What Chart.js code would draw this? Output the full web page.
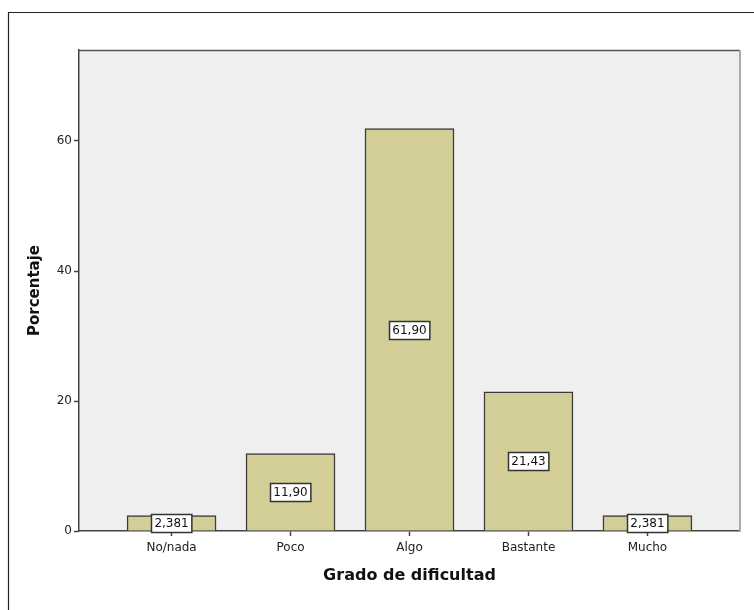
<!DOCTYPE html>
<html>
<head>
<meta charset="utf-8">
<script src="https://cdn.jsdelivr.net/npm/chart.js@4"></script>
<style>
html,body{margin:0;padding:0;background:#fff;}
canvas{display:block;}
</style>
</head>
<body>
<canvas id="c" width="754" height="610"></canvas>
<script>
const categories = ["No/nada", "Poco", "Algo", "Bastante", "Mucho"];
const percentages = [2.381, 11.90, 61.90, 21.43, 2.381];
const yTicks = [0, 20, 40, 60];

const FONT = "'DejaVu Sans', Verdana, sans-serif";

const framePlugin = {
  id: 'frame',
  beforeDraw(chart) {
    const {ctx, chartArea: a} = chart;
    ctx.save();
    ctx.fillStyle = '#ffffff';
    ctx.fillRect(0, 0, chart.width, chart.height);
    ctx.strokeStyle = '#222';
    ctx.lineWidth = 1.2;
    ctx.beginPath();
    ctx.moveTo(8.5, chart.height);
    ctx.lineTo(8.5, 12.5);
    ctx.lineTo(chart.width, 12.5);
    ctx.stroke();
    ctx.fillStyle = '#efefef';
    ctx.fillRect(a.left, a.top, a.right - a.left, a.bottom - a.top);
    ctx.restore();
  },
  afterDraw(chart) {
    const {ctx, chartArea: a} = chart;
    ctx.save();
    ctx.strokeStyle = '#555';
    ctx.lineWidth = 1.5;
    ctx.beginPath();
    ctx.moveTo(a.left, a.top + 0.5);
    ctx.lineTo(a.right, a.top + 0.5);
    ctx.stroke();
    ctx.strokeStyle = '#aaa';
    ctx.lineWidth = 2;
    ctx.beginPath();
    ctx.moveTo(a.right, a.top);
    ctx.lineTo(a.right, a.bottom);
    ctx.stroke();
    ctx.restore();
  },
  afterDatasetsDraw(chart) {
    const {ctx} = chart;
    const meta = chart.getDatasetMeta(0);
    ctx.save();
    ctx.font = "12px " + FONT;
    ctx.textAlign = 'center';
    ctx.textBaseline = 'middle';
    meta.data.forEach((bar, i) => {
      const txt = percentages[i].toPrecision(4).replace('.', ',');
      const cy = (bar.y + bar.base) / 2;
      const w = ctx.measureText(txt).width + 6;
      const h = 18;
      const x0 = Math.round(bar.x - w / 2) + 0.5;
      const y0 = Math.round(cy - h / 2) + 0.5;
      ctx.fillStyle = '#fff';
      ctx.fillRect(x0, y0, w, h);
      ctx.strokeStyle = '#333';
      ctx.lineWidth = 1.5;
      ctx.strokeRect(x0, y0, w, h);
      ctx.fillStyle = '#111';
      ctx.fillText(txt, bar.x, cy + 1);
    });
    ctx.restore();
  }
};

new Chart(document.getElementById('c'), {
  type: 'bar',
  data: {
    datasets: [{
      data: percentages.map((v, i) => ({x: i, y: v})),
      backgroundColor: '#d3ce98',
      borderColor: '#3a3a3a',
      borderWidth: 1.5,
      barThickness: 89
    }]
  },
  options: {
    responsive: false,
    animation: false,
    events: [],
    layout: {padding: {left: 0, right: 14, top: 50, bottom: 0}},
    plugins: {legend: {display: false}, tooltip: {enabled: false}},
    scales: {
      x: {
        type: 'linear',
        offset: false,
        min: -0.778,
        max: 4.778,
        afterBuildTicks: (s) => { s.ticks = categories.map((c, i) => ({value: i})); },
        afterFit: (s) => { s.height = 79; },
        ticks: {
          autoSkip: false,
          maxRotation: 0,
          padding: 5,
          color: '#222',
          font: {family: FONT, size: 12},
          callback: (v) => categories[v]
        },
        grid: {offset: false, drawOnChartArea: false, drawTicks: true, tickLength: 5, color: '#444', tickWidth: 1.5},
        border: {display: true, color: '#444', width: 1.5},
        title: {
          display: true,
          text: 'Grado de dificultad',
          color: '#111',
          font: {family: FONT, size: 16, weight: 'bold'},
          padding: {top: 0, bottom: 25}
        }
      },
      y: {
        min: 0,
        max: 74,
        afterBuildTicks: (s) => { s.ticks = yTicks.map(v => ({value: v})); },
        afterFit: (s) => { s.width = 79; },
        ticks: {
          padding: 2,
          color: '#222',
          font: {family: FONT, size: 12}
        },
        grid: {drawOnChartArea: false, drawTicks: true, tickLength: 5, color: '#444', tickWidth: 1.5},
        border: {display: true, color: '#444', width: 1.5},
        title: {
          display: true,
          text: 'Porcentaje',
          color: '#111',
          font: {family: FONT, size: 15, weight: 'bold'},
          padding: {top: 26, bottom: 0}
        }
      }
    }
  },
  plugins: [framePlugin]
});
</script>
</body>
</html>
